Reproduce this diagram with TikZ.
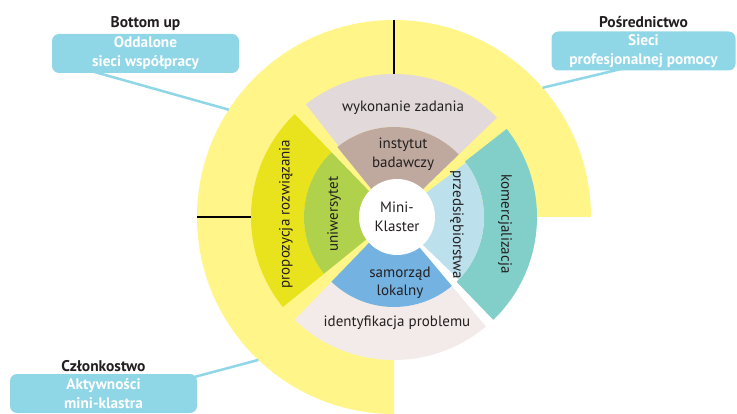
\documentclass[tikz,border=0pt]{standalone}
\usepackage{fontspec}
\setmainfont{PT Sans}
\usetikzlibrary{positioning}

\definecolor{ringyellow}{HTML}{FFF588}
\definecolor{taskgrey}{HTML}{E1D9DA}
\definecolor{instbrown}{HTML}{BFA99F}
\definecolor{propyellow}{HTML}{E8E31C}
\definecolor{unigreen}{HTML}{B0D14B}
\definecolor{komteal}{HTML}{81CFC8}
\definecolor{firmblue}{HTML}{BCE1EC}
\definecolor{localblue}{HTML}{74B2E2}
\definecolor{probpink}{HTML}{F3EBEA}
\definecolor{calloutblue}{HTML}{8FD6E7}
\definecolor{ink}{HTML}{231F20}

\begin{document}
\begin{tikzpicture}[x=1pt,y=1pt,
    calloutbox/.style={fill=calloutblue, rounded corners=7pt, text=white, align=center,
      font=\fontsize{15.3}{19}\selectfont\bfseries, minimum width=187pt, minimum height=39pt, inner sep=0pt},
    headline/.style={font=\fontsize{15.5}{17}\selectfont\bfseries, text=ink},
    ringtext/.style={font=\fontsize{15}{18.5}\selectfont, text=ink, align=center, inner sep=1pt},
    linkline/.style={draw=calloutblue, line width=2.5pt}]
  \useasboundingbox (0,0) rectangle (737,413);

  \begin{scope}[shift={(394,196)}]
    % yellow background, three quarters
    \fill[ringyellow] (0,0) -- (0:197) arc[start angle=0, end angle=270, radius=197] -- cycle;
    \draw[line width=1.2pt] (90:143) -- (90:197);
    \draw[line width=1.2pt] (180:143) -- (180:197);

    % outer ring
    \foreach \col/\a/\b in {taskgrey/44/128, propyellow/134/219, probpink/226/310, komteal/314/398}
      \fill[\col] (\a:90) arc[start angle=\a, end angle=\b, radius=90]
        -- (\b:143) arc[start angle=\b, end angle=\a, radius=143] -- cycle;

    % inner ring
    \foreach \col/\a/\b in {instbrown/44/129, unigreen/134/219, localblue/226/310, firmblue/316/397}
      \fill[\col] (0,0) -- (\a:90) arc[start angle=\a, end angle=\b, radius=90] -- cycle;

    \coordinate (p1) at (147:197);
    \coordinate (p2) at (41:197);
    \coordinate (p3) at (226.5:197);
  \end{scope}

  \node[circle, fill=white, minimum size=76pt, ringtext] (core) at (397,196) {Mini-\\Klaster};

  \node[ringtext] (wyk) at (403,305) {wykonanie zadania};
  \node[ringtext] (inst) at (403,259) {instytut\\badawczy};
  \node[ringtext] (sam) at (400,130) {samorząd\\lokalny};
  \node[ringtext] (ident) at (397,90) {identyfikacja problemu};
  \node[ringtext, rotate=90] (prop) at (286,199) {propozycja rozwiązania};
  \node[ringtext, rotate=90] (uni) at (334,199) {uniwersytet};
  \node[ringtext, rotate=-90] (przed) at (457,188) {przedsiębiorstwa};
  \node[ringtext, rotate=-90] (kom) at (505,189) {komercjalizacja};

  % callouts
  \node[calloutbox] (b1) at (145.5,359.5) {Oddalone\\sieci współpracy};
  \node[headline, above=0pt of b1] (t1) {Bottom up};
  \node[calloutbox, minimum width=184pt] (b2) at (643.5,362) {Sieci\\profesjonalnej pomocy};
  \node[headline, above=0pt of b2] (t2) {Pośrednictwo};
  \node[calloutbox] (b3) at (103.5,19.5) {Aktywności\\mini-klastra};
  \node[headline, above=-1pt of b3] (t3) {Członkostwo};

  \draw[linkline] ([xshift=40pt,yshift=2pt]b1.south west) -- (p1);
  \draw[linkline] ([xshift=71pt,yshift=2pt]b2.south west) -- (p2);
  \draw[linkline] ([xshift=-2pt,yshift=-3pt]b3.north east) -- (p3);
\end{tikzpicture}
\end{document}
